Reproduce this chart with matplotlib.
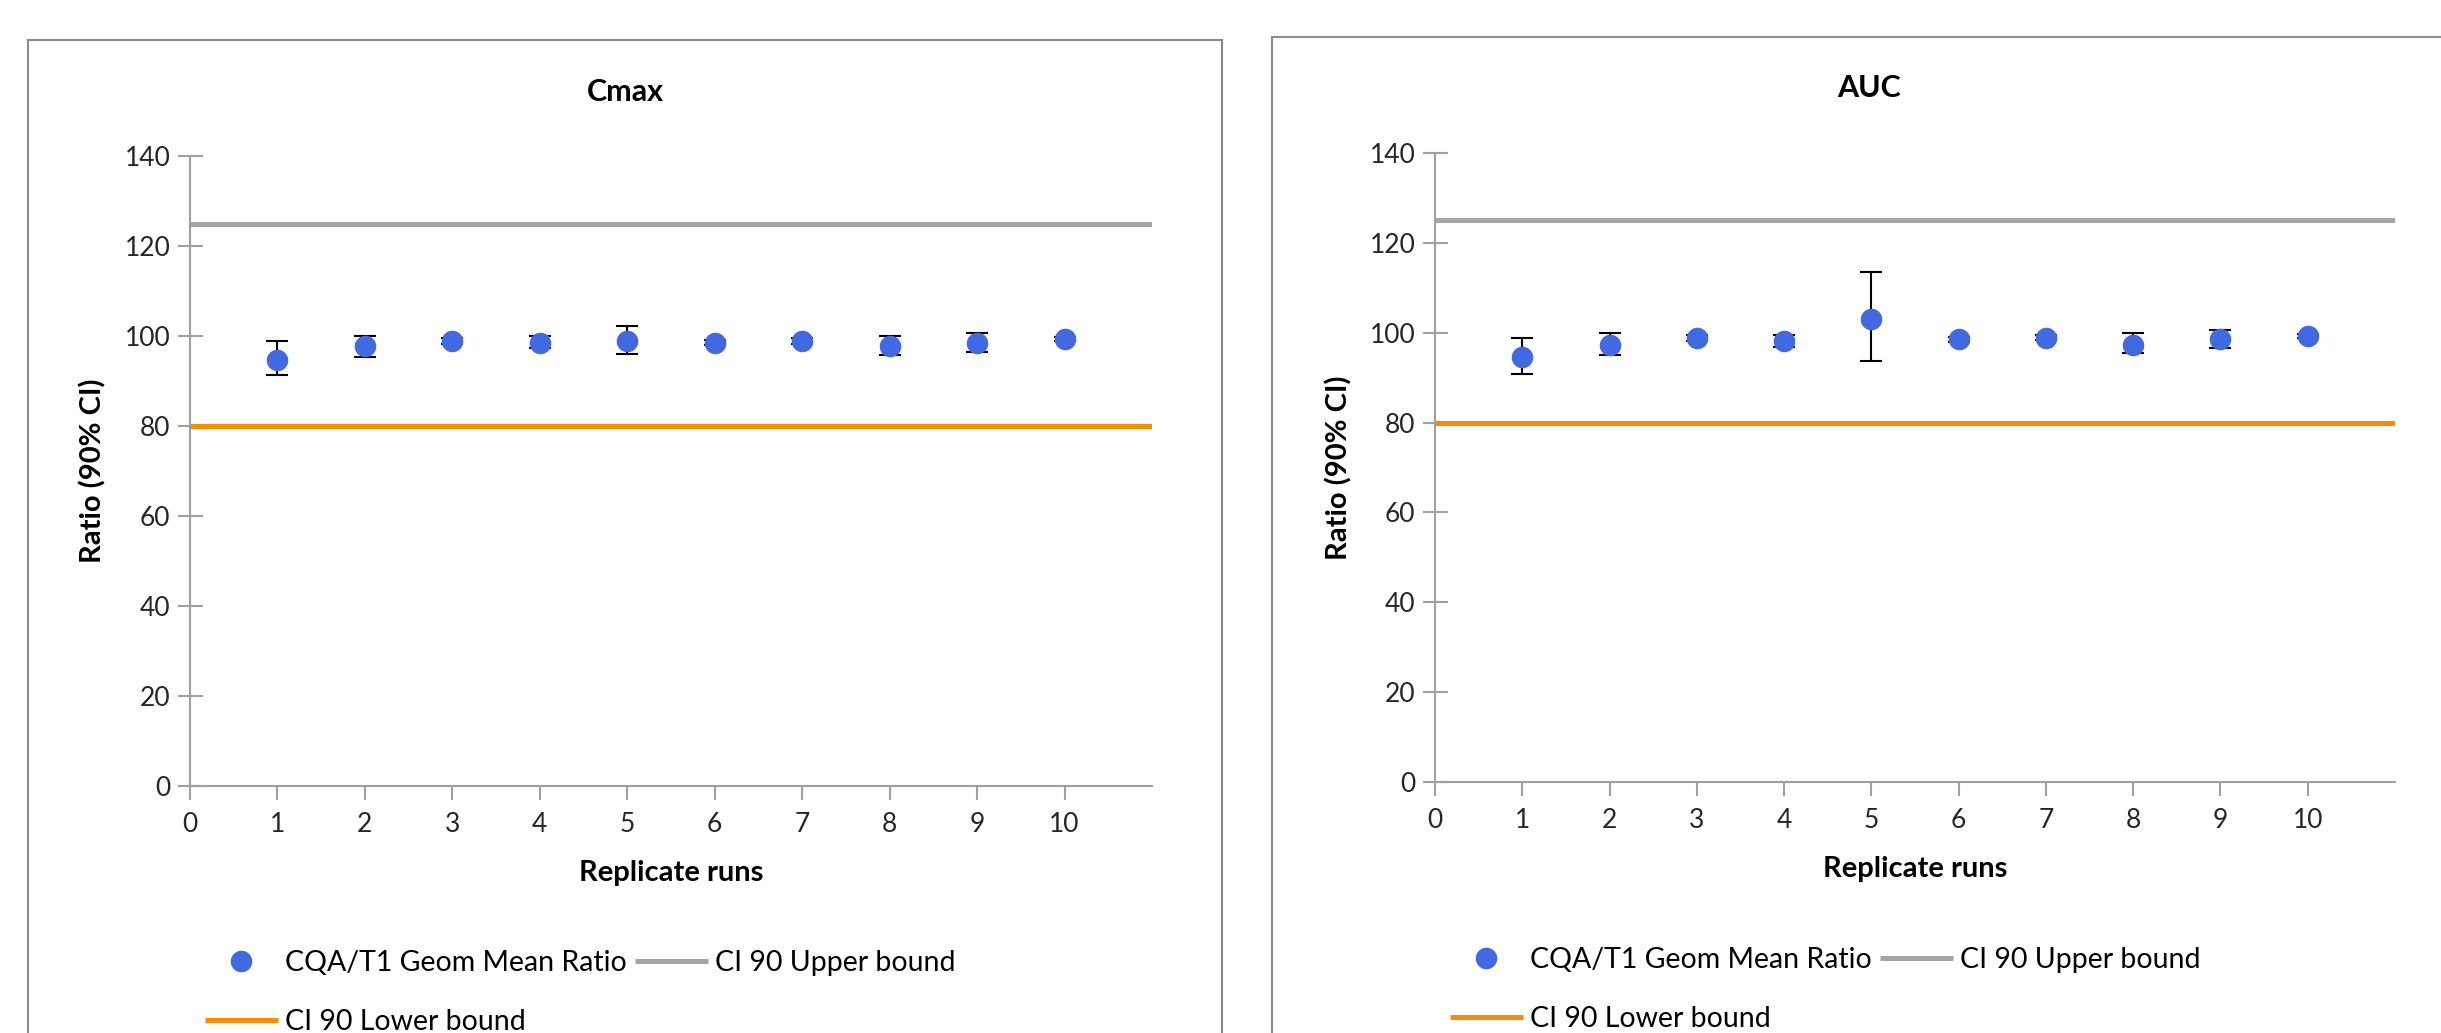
import matplotlib
matplotlib.use('Agg')
import matplotlib.pyplot as plt
from matplotlib.patches import Rectangle
import numpy as np

plt.rcParams['font.family'] = ['Lato', 'DejaVu Sans']

# replicate runs and ratios
runs = [1, 2, 3, 4, 5, 6, 7, 8, 9, 10]

cmax_ratio = [94.7, 97.8, 98.9, 98.5, 98.8, 98.5, 98.9, 97.8, 98.5, 99.3]
cmax_low = [91.3, 95.4, 98.2, 97.3, 96.1, 97.9, 98.3, 95.8, 96.5, 98.8]
cmax_high = [98.8, 100.0, 99.6, 99.9, 102.2, 99.1, 99.5, 100.0, 100.7, 99.8]

auc_ratio = [94.7, 97.3, 98.9, 98.1, 103.0, 98.5, 98.9, 97.3, 98.5, 99.3]
auc_low = [90.8, 95.0, 98.2, 96.8, 93.6, 97.9, 98.3, 95.4, 96.5, 98.8]
auc_high = [98.8, 100.0, 99.6, 99.6, 113.5, 99.1, 99.5, 100.0, 100.7, 99.8]

upper_bound = 125
lower_bound = 80
x_span = [0, 11]

W, H = 2441, 1033
fig = plt.figure(figsize=(W / 100, H / 100), dpi=100)

# panel frames (Excel chart areas), they run off the bottom / right
fig.patches.append(Rectangle((28 / W, -0.1), (1222 - 28) / W, 1.1 - 40 / H,
                             transform=fig.transFigure, fill=False,
                             edgecolor='#8c8c8c', linewidth=1.5))
fig.patches.append(Rectangle((1272 / W, -0.1), 0.6, 1.1 - 37 / H,
                             transform=fig.transFigure, fill=False,
                             edgecolor='#8c8c8c', linewidth=1.5))

panels = [
    ('Cmax', cmax_ratio, cmax_low, cmax_high, [190, 786, 1152, 156], 625, 92, 93, 0.084, 0.039),
    ('AUC', auc_ratio, auc_low, auc_high, [1435, 782, 2395, 153], 1869, 88, 1339, 0.594, 0.042),
]

for title, ratio, low, high, box, tx, ty, ylx, lgx, lgy in panels:
    x0, y0, x1, y1 = box
    ax = fig.add_axes([x0 / W, 1 - y0 / H, (x1 - x0) / W, (y0 - y1) / H])
    ratio = np.array(ratio)
    yerr = [ratio - np.array(low), np.array(high) - ratio]

    ax.errorbar(runs, ratio, yerr=yerr, fmt='none', ecolor='black',
                elinewidth=1.5, capsize=8, capthick=1.5, zorder=3)
    pts, = ax.plot(runs, ratio, 'o', color='#4169e1', markersize=14.5,
                   linestyle='none', zorder=4, label='CQA/T1 Geom Mean Ratio')
    up, = ax.plot(x_span, [upper_bound] * 2, color='#a5a5a5', linewidth=3.6,
                  solid_capstyle='butt', label='CI 90 Upper bound')
    lo, = ax.plot(x_span, [lower_bound] * 2, color='#ff8c00', linewidth=3.6,
                  solid_capstyle='butt', label='CI 90 Lower bound')

    ax.set_xlim(0, 11)
    ax.set_ylim(0, 140)
    ax.set_xticks(range(0, 11))
    ax.set_yticks(range(0, 141, 20))
    for s in ['top', 'right']:
        ax.spines[s].set_visible(False)
    for s in ['left', 'bottom']:
        ax.spines[s].set_color('#a0a0a0')
        ax.spines[s].set_linewidth(1.5)
    ax.tick_params(axis='y', direction='inout', length=18, width=1.5,
                   color='#a0a0a0', labelsize=19, pad=5, labelcolor='#262626')
    ax.tick_params(axis='x', direction='out', length=10, width=1.5,
                   color='#a0a0a0', labelsize=19, pad=9, labelcolor='#262626')

    fig.text(tx / W, 1 - ty / H, title, ha='center', va='center',
             fontsize=22, fontweight='bold')
    fig.text(ylx / W, 1 - ((y0 + y1) / 2) / H, 'Ratio (90% CI)', rotation=90,
             ha='center', va='center', fontsize=21, fontweight='bold')
    ax.set_xlabel('Replicate runs', fontsize=21, fontweight='bold', labelpad=16)

    fig.legend(handles=[pts, lo, up], loc='center left',
               bbox_to_anchor=(lgx, lgy), ncol=2, frameon=False,
               fontsize=20.5, handlelength=2.55, handletextpad=0.25,
               columnspacing=0.3, labelspacing=1.15, borderpad=0,
               borderaxespad=0)

fig.savefig('out.png', dpi=100, facecolor='white')
